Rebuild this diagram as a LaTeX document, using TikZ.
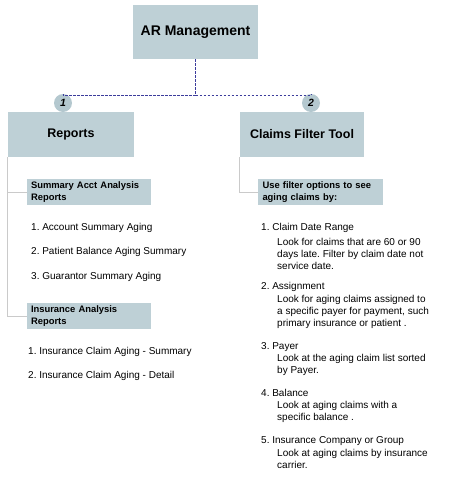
\documentclass[tikz,border=0pt]{standalone}
\usepackage{fontspec}
\setmainfont{Liberation Sans}
\frenchspacing
\definecolor{boxblue}{HTML}{BED0D6}
\definecolor{circblue}{HTML}{B4C8CF}
\definecolor{dashblue}{HTML}{3C3C9C}
\definecolor{treegray}{HTML}{CACACA}
\tikzset{
	titlebox/.style={fill=boxblue,inner sep=0pt,font=\bfseries},
	subbox/.style={fill=boxblue,inner sep=0pt,minimum width=124pt,minimum height=26pt,text width=116pt,align=left,font=\fontsize{9.4}{12}\selectfont\bfseries},
	numdot/.style={circle,fill=circblue,inner sep=0pt,minimum size=18pt,font=\fontsize{10.5}{10.5}\selectfont\bfseries\itshape},
	dashline/.style={draw=dashblue,line width=0.9pt,dash pattern=on 2.5pt off 1.5pt},
	treeline/.style={draw=treegray,line width=0.8pt},
	item/.style={anchor=west,inner sep=0pt,font=\fontsize{10}{12}\selectfont},
	itembody/.style={anchor=north west,inner sep=0pt,align=left,font=\fontsize{10}{12}\selectfont}
}
\begin{document}
\begin{tikzpicture}[x=1pt,y=-1pt]
		\useasboundingbox (0,0) rectangle (457,483);
		\coordinate (top) at (195.5,32);
		\coordinate (left) at (71,134.5);
		\coordinate (right) at (302,134.5);

		\node[titlebox,minimum width=125pt,minimum height=54pt,font=\fontsize{14}{14}\selectfont\bfseries] (ar) at (top) {AR Management};
		\node[titlebox,minimum width=126pt,minimum height=45pt,font=\fontsize{12.5}{12.5}\selectfont\bfseries] (reports) at (left) {Reports};
		\node[titlebox,minimum width=124pt,minimum height=45pt,font=\fontsize{12.5}{12.5}\selectfont\bfseries] (claims) at (right) {Claims Filter Tool};
		\node[numdot] (n1) at (63,103) {1};
		\node[numdot] (n2) at (311,103) {2};

		\draw[dashline] (ar.south) -- ++(0,36) coordinate (hub);
		\draw[dashline] (hub) -| (n1.north);
		\draw[dashline] (hub) -| (n2.north);

		% left column
		\node[subbox] (sumbox) at (89,192) {Summary Acct Analysis\\Reports};
		\node[subbox] (insbox) at (89,316) {Insurance Analysis\\Reports};
		\draw[treeline] (reports.south west) |- (insbox.west);
		\draw[treeline] (reports.south west |- sumbox.west) -- (sumbox.west);

		\node[item] (acct) at (31,228) {1. Account Summary Aging};
		\node[item] (pat) at (31,252) {2. Patient Balance Aging Summary};
		\node[item] (guar) at (31,277) {3. Guarantor Summary Aging};
		\node[item] (inssum) at (28,352) {1. Insurance Claim Aging - Summary};
		\node[item] (insdet) at (28,376) {2. Insurance Claim Aging - Detail};

		% right column
		\node[subbox,minimum width=125pt] (filtbox) at (320.5,192) {Use filter options to see\\aging claims by:};
		\draw[treeline] (claims.south west) |- (filtbox.west);

		\node[item] (date) at (261,228) {1. Claim Date Range};
		\node[itembody] at (277,238) {Look for claims that are 60 or 90\\days late. Filter by claim date not\\service date.};
		\node[item] (assign) at (261,287) {2. Assignment};
		\node[itembody] at (277,295) {Look for aging claims assigned to\\a specific payer for payment, such\\primary insurance or patient .};
		\node[item] (payer) at (261,347) {3. Payer};
		\node[itembody] at (277,354) {Look at the aging claim list sorted\\by Payer.};
		\node[item] (bal) at (261,393) {4. Balance};
		\node[itembody] at (277,401) {Look at aging claims with a\\specific balance .};
		\node[item] (group) at (261,441) {5. Insurance Company or Group};
		\node[itembody] at (277,449) {Look at aging claims by insurance\\carrier.};
	\end{tikzpicture}
\end{document}
